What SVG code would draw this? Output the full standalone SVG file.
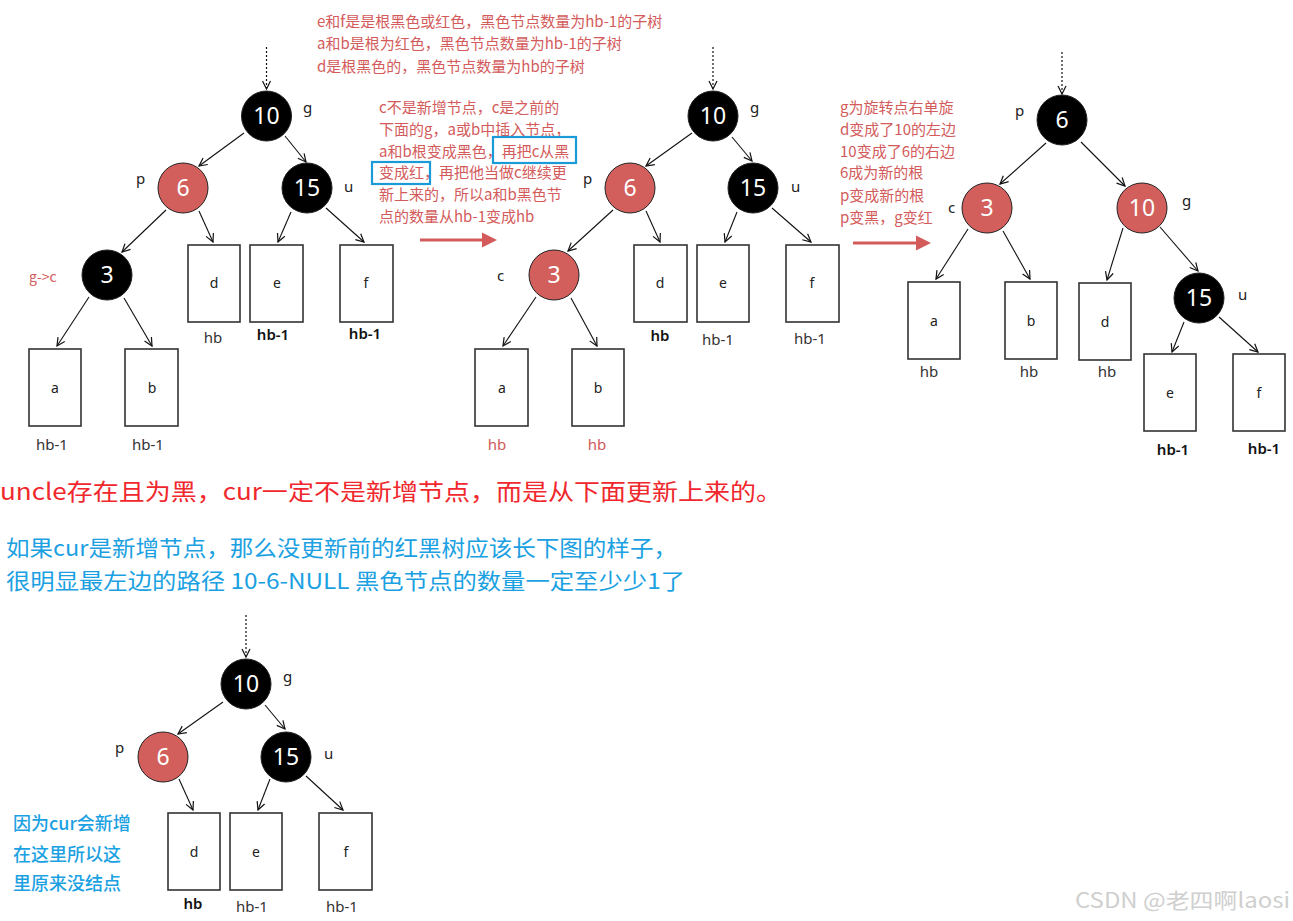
<svg xmlns="http://www.w3.org/2000/svg" width="1293" height="921" viewBox="0 0 1293 921">
<style>
.bg{fill:#fff}
.nb{fill:#000;stroke:#222;stroke-width:1}
.nr{fill:#d25f5c;stroke:#222;stroke-width:1}
.num{font-family:"Noto Sans","Open Sans",sans-serif;font-size:23px;fill:#fff;text-anchor:middle}
.lbl{font-family:"Noto Sans","Open Sans",sans-serif;font-size:15px;fill:#222}
.box{fill:#fff;stroke:#333;stroke-width:1.6}
.bl{font-family:"Noto Sans","Open Sans",sans-serif;font-size:14px;fill:#222;text-anchor:middle}
.hb{font-family:"Noto Sans","Open Sans",sans-serif;font-size:15px;fill:#333;text-anchor:middle}
.hbb{font-weight:600;fill:#111}
.hbr{fill:#d05a5a}
.edge{stroke:#111;stroke-width:1.1;fill:none;marker-end:url(#arr)}
.dot{stroke:#111;stroke-width:1.2;fill:none;stroke-dasharray:2 2;marker-end:url(#arr)}
.ann{font-family:"Noto Sans CJK SC","Noto Sans",sans-serif;font-size:15px;fill:#d35b5b}
.redarrow{stroke:#d35b5b;stroke-width:3;fill:none}
.tri{fill:#d35b5b}
.hl{fill:none;stroke:#1a9ad6;stroke-width:2.2}
.big{font-family:"Noto Sans CJK SC",sans-serif;font-size:23px;fill:#f0282d}
.blue{font-family:"Noto Sans CJK SC",sans-serif;font-size:22px;fill:#1ba1e2}
.blues{font-family:"Noto Sans CJK SC",sans-serif;font-size:18px;font-weight:500;fill:#1ba1e2}
.wm{font-family:"Noto Sans CJK SC",sans-serif;font-size:21px;fill:#cfcfcf}
</style>
<defs>
<marker id="arr" viewBox="0 0 10 10" refX="9" refY="5" markerWidth="10" markerHeight="10" markerUnits="userSpaceOnUse" orient="auto">
<path d="M1,1 L9,5 L1,9" fill="none" stroke="#111" stroke-width="1.2"/>
</marker>
</defs>
<rect class="bg" x="0" y="0" width="1293" height="921"/>

<g id="connectors">
<!-- tree 1 -->
<line class="dot" x1="266.5" y1="47" x2="266.5" y2="89"/>
<line class="edge" x1="244" y1="133" x2="199" y2="166"/>
<line class="edge" x1="285" y1="136" x2="306" y2="162"/>
<line class="edge" x1="166" y1="210" x2="122" y2="252"/>
<line class="edge" x1="199" y1="211" x2="213" y2="242"/>
<line class="edge" x1="291" y1="212" x2="278" y2="242"/>
<line class="edge" x1="326" y1="208" x2="364" y2="242"/>
<line class="edge" x1="89" y1="297" x2="57" y2="346"/>
<line class="edge" x1="124" y1="298" x2="152" y2="346"/>
<!-- tree 2 -->
<line class="dot" x1="713" y1="47" x2="713" y2="89"/>
<line class="edge" x1="692" y1="133" x2="646" y2="166"/>
<line class="edge" x1="732" y1="137" x2="752" y2="161"/>
<line class="edge" x1="613" y1="210" x2="568" y2="251"/>
<line class="edge" x1="646" y1="211" x2="660" y2="242"/>
<line class="edge" x1="737" y1="212" x2="725" y2="242"/>
<line class="edge" x1="772" y1="208" x2="811" y2="242"/>
<line class="edge" x1="536" y1="297" x2="503" y2="346"/>
<line class="edge" x1="571" y1="298" x2="597" y2="346"/>
<!-- tree 3 -->
<line class="dot" x1="1062" y1="52" x2="1062" y2="94"/>
<line class="edge" x1="1046" y1="143" x2="1000" y2="184"/>
<line class="edge" x1="1081" y1="142" x2="1125" y2="186"/>
<line class="edge" x1="968" y1="229" x2="936" y2="279"/>
<line class="edge" x1="1003" y1="231" x2="1030" y2="279"/>
<line class="edge" x1="1123" y1="228" x2="1107" y2="280"/>
<line class="edge" x1="1160" y1="227" x2="1198" y2="271"/>
<line class="edge" x1="1184" y1="322" x2="1172" y2="352"/>
<line class="edge" x1="1219" y1="317" x2="1258" y2="352"/>
<!-- tree 4 -->
<line class="dot" x1="246" y1="615" x2="246" y2="657"/>
<line class="edge" x1="223" y1="702" x2="178" y2="734"/>
<line class="edge" x1="265" y1="705" x2="285" y2="729"/>
<line class="edge" x1="179" y1="779" x2="193" y2="810"/>
<line class="edge" x1="270" y1="779" x2="258" y2="810"/>
<line class="edge" x1="306" y1="776" x2="343" y2="810"/>
<!-- red transition arrows -->
<line class="redarrow" x1="420" y1="240" x2="484" y2="240"/>
<polygon class="tri" points="482,232.5 497,240 482,247.5"/>
<line class="redarrow" x1="853" y1="243" x2="918" y2="243"/>
<polygon class="tri" points="916,235.5 931,243 916,250.5"/>
</g>

<!-- Tree 1 -->
<g id="t1-n10"><circle class="nb" cx="266.5" cy="116" r="25"/><text class="num" x="266.5" y="124">10</text><text class="lbl" x="303" y="113">g</text></g>
<g id="t1-n6"><circle class="nr" cx="183" cy="188" r="25"/><text class="num" x="183" y="196">6</text><text class="lbl" x="136" y="184">p</text></g>
<g id="t1-n15"><circle class="nb" cx="307" cy="188" r="25"/><text class="num" x="307" y="196">15</text><text class="lbl" x="344" y="192">u</text></g>
<g id="t1-n3"><circle class="nb" cx="107" cy="275" r="25"/><text class="num" x="107" y="283">3</text><text class="ann" x="29" y="282" style="font-size:14px">g-&gt;c</text></g>
<g id="t1-d"><rect class="box" x="188" y="245" width="52" height="77"/><text class="bl" x="214" y="288">d</text><text class="hb" x="213" y="343">hb</text></g>
<g id="t1-e"><rect class="box" x="250" y="245" width="53" height="77"/><text class="bl" x="277" y="288">e</text><text class="hb hbb" x="273" y="340">hb-1</text></g>
<g id="t1-f"><rect class="box" x="340" y="245" width="53" height="77"/><text class="bl" x="366" y="288">f</text><text class="hb hbb" x="365" y="339">hb-1</text></g>
<g id="t1-a"><rect class="box" x="29" y="349" width="52" height="77"/><text class="bl" x="55" y="393">a</text><text class="hb" x="52" y="450">hb-1</text></g>
<g id="t1-b"><rect class="box" x="125" y="349" width="53" height="77"/><text class="bl" x="152" y="393">b</text><text class="hb" x="148" y="450">hb-1</text></g>

<!-- Top annotation -->
<g id="note-top">
<text class="ann" x="317" y="27">e和f是是根黑色或红色，黑色节点数量为hb-1的子树</text>
<text class="ann" x="317" y="49">a和b是根为红色，黑色节点数量为hb-1的子树</text>
<text class="ann" x="317" y="72">d是根黑色的，黑色节点数量为hb的子树</text>
</g>

<!-- Middle annotation -->
<g id="note-mid">
<text class="ann" x="379" y="113">c不是新增节点，c是之前的</text>
<text class="ann" x="379" y="135">下面的g，a或b中插入节点，</text>
<text class="ann" x="379" y="157">a和b根变成黑色，再把c从黑</text>
<text class="ann" x="379" y="178">变成红，再把他当做c继续更</text>
<text class="ann" x="379" y="200">新上来的，所以a和b黑色节</text>
<text class="ann" x="379" y="222">点的数量从hb-1变成hb</text>
<rect class="hl" x="493" y="137" width="83" height="26"/>
<rect class="hl" x="372" y="162" width="58" height="22"/>
</g>

<!-- Tree 2 -->
<g id="t2-n10"><circle class="nb" cx="713" cy="116" r="25"/><text class="num" x="713" y="124">10</text><text class="lbl" x="750" y="113">g</text></g>
<g id="t2-n6"><circle class="nr" cx="630" cy="188" r="25"/><text class="num" x="630" y="196">6</text><text class="lbl" x="583" y="184">p</text></g>
<g id="t2-n15"><circle class="nb" cx="753" cy="188" r="25"/><text class="num" x="753" y="196">15</text><text class="lbl" x="791" y="192">u</text></g>
<g id="t2-n3"><circle class="nr" cx="554" cy="275" r="25"/><text class="num" x="554" y="283">3</text><text class="lbl" x="497" y="281">c</text></g>
<g id="t2-d"><rect class="box" x="634" y="245" width="53" height="77"/><text class="bl" x="660" y="288">d</text><text class="hb hbb" x="660" y="341">hb</text></g>
<g id="t2-e"><rect class="box" x="697" y="245" width="52" height="77"/><text class="bl" x="723" y="288">e</text><text class="hb" x="718" y="345">hb-1</text></g>
<g id="t2-f"><rect class="box" x="786" y="245" width="53" height="77"/><text class="bl" x="812" y="288">f</text><text class="hb" x="810" y="344">hb-1</text></g>
<g id="t2-a"><rect class="box" x="475" y="349" width="53" height="77"/><text class="bl" x="502" y="393">a</text><text class="hb hbr" x="497" y="450">hb</text></g>
<g id="t2-b"><rect class="box" x="572" y="349" width="52" height="77"/><text class="bl" x="598" y="393">b</text><text class="hb hbr" x="597" y="450">hb</text></g>

<!-- Right annotation -->
<g id="note-right">
<text class="ann" x="840" y="113">g为旋转点右单旋</text>
<text class="ann" x="840" y="135">d变成了10的左边</text>
<text class="ann" x="840" y="157">10变成了6的右边</text>
<text class="ann" x="840" y="178">6成为新的根</text>
<text class="ann" x="840" y="201">p变成新的根</text>
<text class="ann" x="840" y="223">p变黑，g变红</text>
</g>

<!-- Tree 3 -->
<g id="t3-n6"><circle class="nb" cx="1062" cy="120" r="25"/><text class="num" x="1062" y="128">6</text><text class="lbl" x="1015" y="116">p</text></g>
<g id="t3-n3"><circle class="nr" cx="987" cy="208" r="25"/><text class="num" x="987" y="216">3</text><text class="lbl" x="948" y="213">c</text></g>
<g id="t3-n10"><circle class="nr" cx="1142" cy="208" r="25"/><text class="num" x="1142" y="216">10</text><text class="lbl" x="1182" y="206">g</text></g>
<g id="t3-n15"><circle class="nb" cx="1199" cy="298" r="25"/><text class="num" x="1199" y="306">15</text><text class="lbl" x="1238" y="300">u</text></g>
<g id="t3-a"><rect class="box" x="908" y="282" width="52" height="77"/><text class="bl" x="934" y="326">a</text><text class="hb" x="929" y="377">hb</text></g>
<g id="t3-b"><rect class="box" x="1005" y="282" width="52" height="77"/><text class="bl" x="1031" y="326">b</text><text class="hb" x="1029" y="377">hb</text></g>
<g id="t3-d"><rect class="box" x="1079" y="283" width="52" height="77"/><text class="bl" x="1105" y="327">d</text><text class="hb" x="1107" y="377">hb</text></g>
<g id="t3-e"><rect class="box" x="1144" y="354" width="52" height="77"/><text class="bl" x="1170" y="398">e</text><text class="hb hbb" x="1173" y="455">hb-1</text></g>
<g id="t3-f"><rect class="box" x="1233" y="354" width="52" height="77"/><text class="bl" x="1259" y="398">f</text><text class="hb hbb" x="1264" y="454">hb-1</text></g>

<!-- Main statements -->
<g id="statement">
<text class="big" x="0" y="500" textLength="782" lengthAdjust="spacingAndGlyphs">uncle存在且为黑，cur一定不是新增节点，而是从下面更新上来的。</text>
<text class="blue" x="6" y="556" textLength="671" lengthAdjust="spacingAndGlyphs">如果cur是新增节点，那么没更新前的红黑树应该长下图的样子，</text>
<text class="blue" x="6" y="589" textLength="679" lengthAdjust="spacingAndGlyphs">很明显最左边的路径 10-6-NULL 黑色节点的数量一定至少少1了</text>
</g>

<!-- Tree 4 -->
<g id="t4-n10"><circle class="nb" cx="246" cy="684" r="25"/><text class="num" x="246" y="692">10</text><text class="lbl" x="283" y="682">g</text></g>
<g id="t4-n6"><circle class="nr" cx="163" cy="757" r="25"/><text class="num" x="163" y="765">6</text><text class="lbl" x="115" y="753">p</text></g>
<g id="t4-n15"><circle class="nb" cx="286" cy="757" r="25"/><text class="num" x="286" y="765">15</text><text class="lbl" x="324" y="759">u</text></g>
<g id="t4-d"><rect class="box" x="168" y="813" width="52" height="77"/><text class="bl" x="194" y="857">d</text><text class="hb hbb" x="193" y="909">hb</text></g>
<g id="t4-e"><rect class="box" x="230" y="813" width="52" height="77"/><text class="bl" x="256" y="857">e</text><text class="hb" x="252" y="912">hb-1</text></g>
<g id="t4-f"><rect class="box" x="319" y="813" width="53" height="77"/><text class="bl" x="346" y="857">f</text><text class="hb" x="342" y="912">hb-1</text></g>

<g id="note-bottom">
<text class="blues" x="13" y="830">因为cur会新增</text>
<text class="blues" x="13" y="861">在这里所以这</text>
<text class="blues" x="13" y="890">里原来没结点</text>
</g>

<g id="watermark"><text class="wm" x="1075" y="908" textLength="215" lengthAdjust="spacingAndGlyphs">CSDN @老四啊laosi</text></g>
</svg>
